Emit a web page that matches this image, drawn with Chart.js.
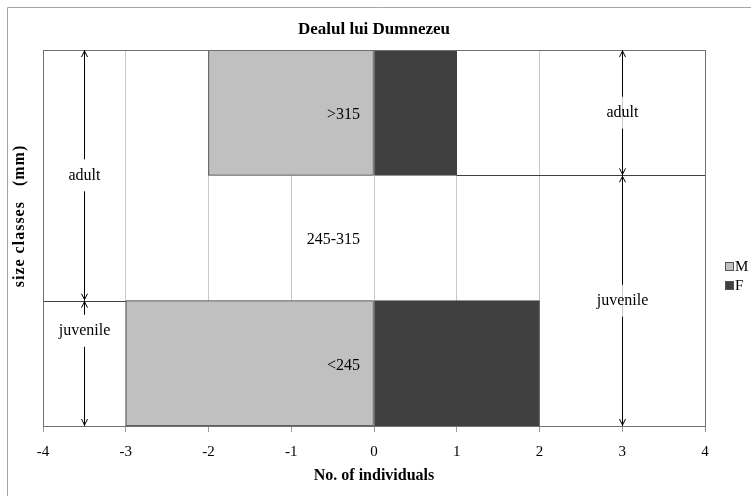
<!DOCTYPE html>
<html>
<head>
<meta charset="utf-8">
<script src="https://cdn.jsdelivr.net/npm/chart.js@4/dist/chart.umd.min.js"></script>
<style>
  body { margin: 0; background: #fff; }
  #wrap { width: 751px; height: 496px; }
</style>
</head>
<body>
<div id="wrap"><canvas id="myChart" width="751" height="496"></canvas></div>
<script>
// size classes, top to bottom
var sizeClasses = ['>315', '245-315', '<245'];
// males drawn to the left (negative), females to the right
var males = [-2, 0, -3];
var females = [1, 0, 2];
var xTicks = [-4, -3, -2, -1, 0, 1, 2, 3, 4];

// stage brackets: label, x value, from / to (category index), label position
var stageNames = ['adult', 'juvenile', 'adult', 'juvenile'];
var stageX = [-3.5, -3.5, 3, 3];
var stageFrom = [-0.5, 1.5, -0.5, 0.5];
var stageTo = [1.5, 2.5, 0.5, 2.5];
var stageLabelAt = [0.5, 1.74, 0, 1.5];

var serif = '"Liberation Serif", "Times New Roman", serif';

function arrowHead(ctx, x, y, dir) {
  ctx.beginPath();
  ctx.moveTo(x - 3, y + dir * 6);
  ctx.lineTo(x, y);
  ctx.lineTo(x + 3, y + dir * 6);
  ctx.stroke();
}

var extras = {
  id: 'extras',
  beforeDraw: function(chart) {
    var ctx = chart.ctx;
    ctx.save();
    ctx.fillStyle = '#fff';
    ctx.fillRect(0, 0, chart.width, chart.height);
    // outer frame
    ctx.strokeStyle = '#a6a6a6';
    ctx.lineWidth = 1;
    ctx.beginPath();
    ctx.moveTo(7.5, chart.height);
    ctx.lineTo(7.5, 7.5);
    ctx.lineTo(chart.width, 7.5);
    ctx.stroke();
    ctx.restore();
  },
  afterDatasetsDraw: function(chart) {
    var ctx = chart.ctx;
    var xs = chart.scales.x, ys = chart.scales.y;
    var a = chart.chartArea;
    ctx.save();

    // separator lines continuing the bar edges
    ctx.strokeStyle = '#404040';
    ctx.lineWidth = 1;
    ctx.beginPath();
    var yb1 = Math.round(ys.getPixelForValue(1.5)) + 0.5;
    ctx.moveTo(xs.getPixelForValue(-4), yb1);
    ctx.lineTo(xs.getPixelForValue(-3), yb1);
    var yb0 = Math.round(ys.getPixelForValue(0.5)) + 0.5;
    ctx.moveTo(xs.getPixelForValue(1), yb0);
    ctx.lineTo(xs.getPixelForValue(4), yb0);
    ctx.stroke();

    // plot border
    ctx.strokeStyle = '#707070';
    ctx.strokeRect(Math.round(a.left) + 0.5, Math.round(a.top) + 0.5,
      Math.round(a.right - a.left), Math.round(a.bottom - a.top));

    // size class labels beside zero
    ctx.fillStyle = '#000';
    ctx.font = '16px ' + serif;
    ctx.textAlign = 'right';
    ctx.textBaseline = 'middle';
    var x0 = xs.getPixelForValue(0) - 14;
    sizeClasses.forEach(function(lab, i) {
      ctx.fillText(lab, x0, ys.getPixelForValue(i) + 2);
    });

    // stage brackets with arrows
    ctx.textAlign = 'center';
    for (var i = 0; i < stageNames.length; i++) {
      var x = Math.round(xs.getPixelForValue(stageX[i])) + 0.5;
      var y1 = ys.getPixelForValue(stageFrom[i]);
      var y2 = ys.getPixelForValue(stageTo[i]);
      var ym = ys.getPixelForValue(stageLabelAt[i]);
      ctx.strokeStyle = '#000';
      ctx.beginPath();
      ctx.moveTo(x, y1);
      ctx.lineTo(x, ym - 16);
      ctx.moveTo(x, ym + 16);
      ctx.lineTo(x, y2);
      ctx.stroke();
      arrowHead(ctx, x, y1 + 1, 1);
      arrowHead(ctx, x, y2 - 1, -1);
      ctx.fillText(stageNames[i], x, ym);
    }

    // legend
    var series = chart.data.datasets;
    ctx.textAlign = 'left';
    ctx.font = '15px ' + serif;
    series.forEach(function(ds, i) {
      var ly = 266 + i * 19;
      ctx.fillStyle = ds.backgroundColor;
      ctx.fillRect(726, ly - 3, 7, 7);
      ctx.strokeStyle = '#555';
      ctx.strokeRect(725.5, ly - 3.5, 8, 8);
      ctx.fillStyle = '#000';
      ctx.fillText(ds.label, 735, ly + 1);
    });

    // title
    ctx.font = 'bold 17px ' + serif;
    ctx.textAlign = 'center';
    ctx.fillText('Dealul lui Dumnezeu', (a.left + a.right) / 2, 30);

    // y axis title
    ctx.translate(20, 216);
    ctx.rotate(-Math.PI / 2);
    ctx.font = 'bold 16px ' + serif;
    ctx.letterSpacing = '1px';
    ctx.fillText('size classes   (mm)', 0, 0);
    ctx.restore();
  }
};

var ctx = document.getElementById('myChart').getContext('2d');
var chart = new Chart(ctx, {
  type: 'bar',
  data: {
    labels: sizeClasses,
    datasets: [{
      label: 'M',
      data: males,
      backgroundColor: '#c0c0c0',
      borderColor: '#404040',
      borderWidth: 1,
      borderSkipped: false
    }, {
      label: 'F',
      data: females,
      backgroundColor: '#404040',
      borderColor: '#404040',
      borderWidth: 1,
      borderSkipped: false
    }]
  },
  options: {
    indexAxis: 'y',
    responsive: false,
    animation: false,
    barPercentage: 1,
    categoryPercentage: 1,
    layout: { padding: { left: 8, right: 46, top: 50, bottom: 10 } },
    plugins: {
      legend: { display: false },
      tooltip: { enabled: false }
    },
    scales: {
      x: {
        stacked: true,
        min: -4,
        max: 4,
        afterBuildTicks: function(scale) {
          scale.ticks = xTicks.map(function(v) { return { value: v }; });
        },
        afterFit: function(scale) { scale.height = 60; },
        grid: { color: '#c8c8c8', tickLength: 6, tickColor: '#999' },
        border: { color: '#707070' },
        ticks: { color: '#000', padding: 11, font: { family: serif, size: 15 } },
        title: {
          display: true,
          text: 'No. of individuals',
          color: '#000',
          padding: { top: 4, bottom: 1 },
          font: { family: serif, size: 16, weight: 'bold' }
        }
      },
      y: {
        stacked: true,
        afterFit: function(scale) { scale.width = 35; },
        grid: { display: false },
        border: { color: '#707070' },
        ticks: { display: false },
        title: { display: false }
      }
    }
  },
  plugins: [extras]
});
</script>
</body>
</html>
